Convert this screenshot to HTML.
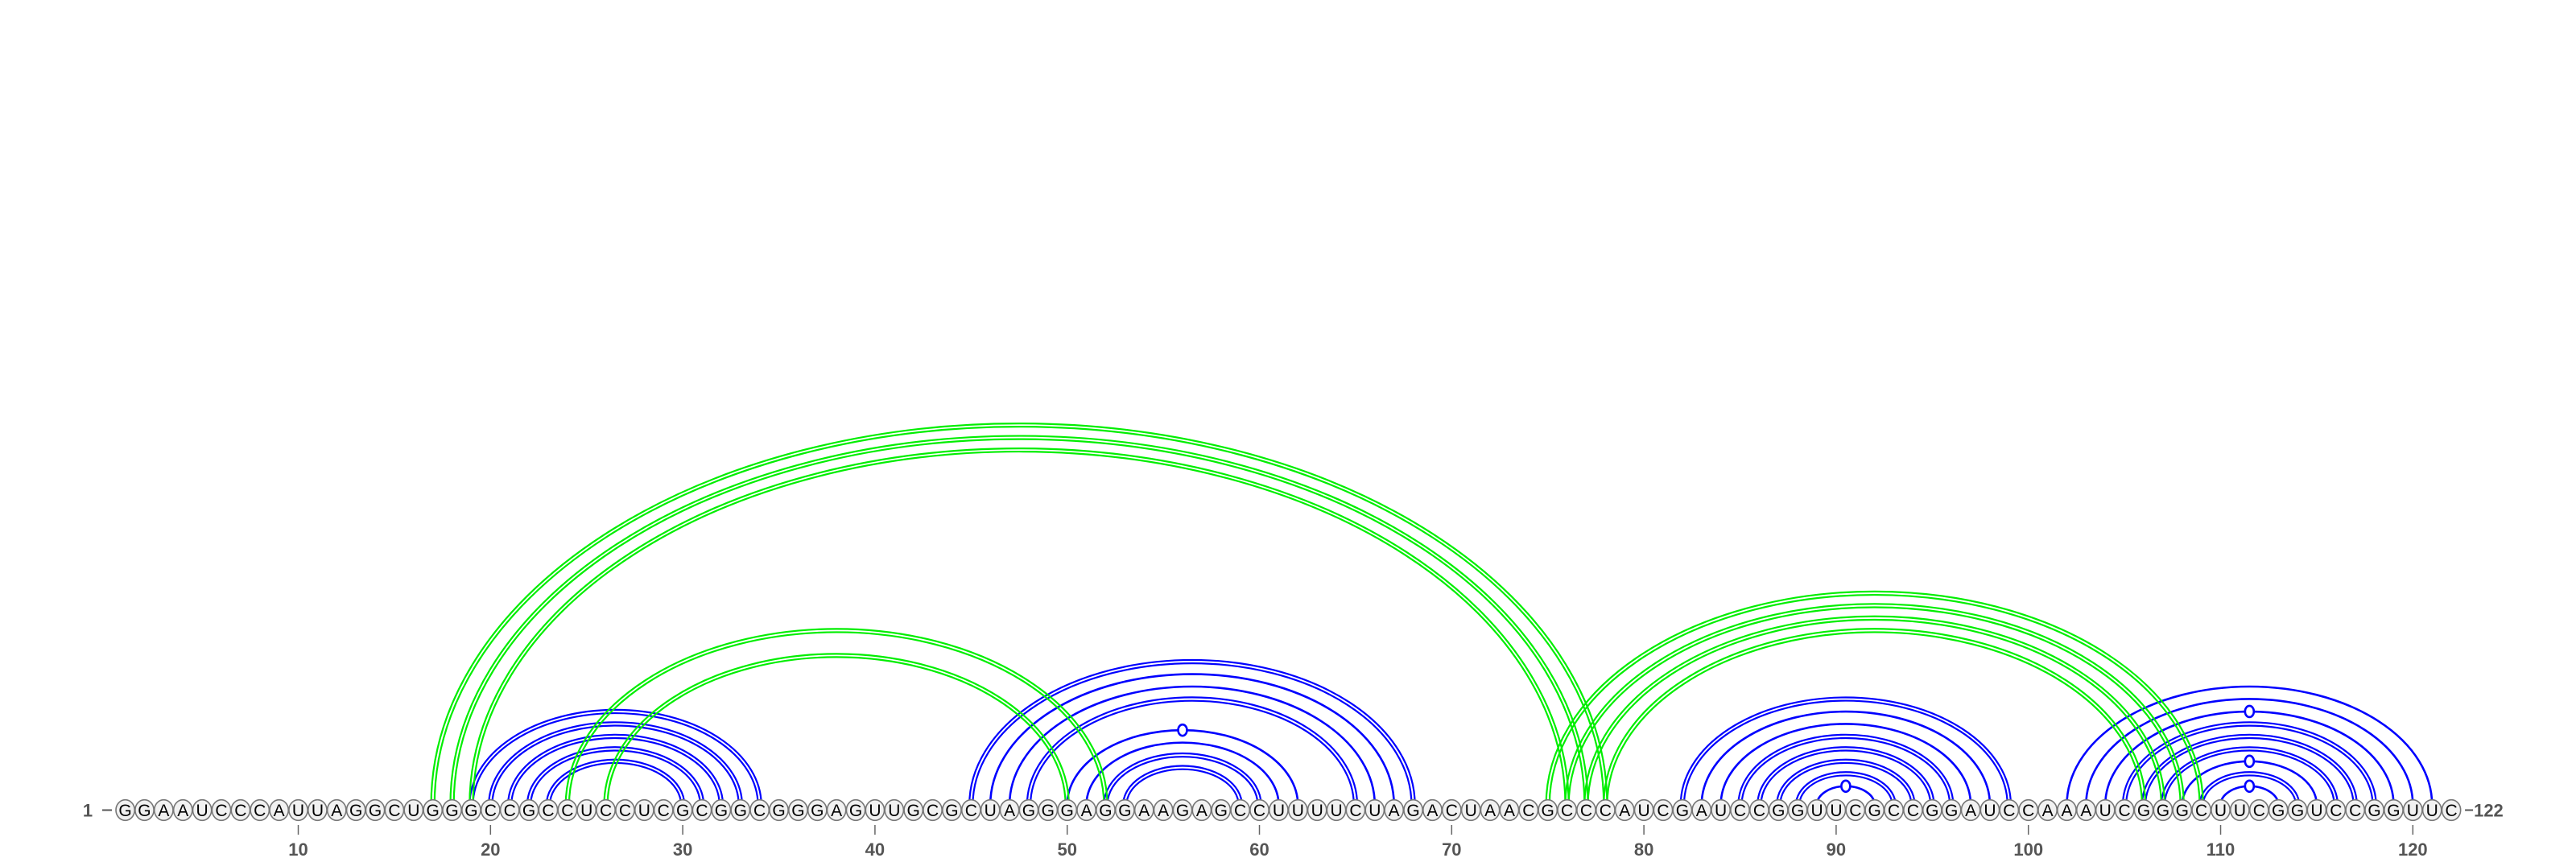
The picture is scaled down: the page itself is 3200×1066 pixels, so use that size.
<!DOCTYPE html>
<html><head><meta charset="utf-8"><style>
html,body{margin:0;padding:0;background:#fff;}
svg{display:block;}
</style></head><body>
<svg id="chart" width="3200" height="1066" viewBox="0 0 3200 1066" xmlns="http://www.w3.org/2000/svg">
<g id="blue-arcs"></g>
<g id="green-arcs"></g>
<g id="markers"></g>
<g id="nts"></g>
<g id="axis"></g>
</svg>
<script>
const sequence = "GGAAUCCCAUUAGGCUGGGCCGCCUCCUCGCGGCGGGAGUUGCGCUAGGGAGGAAGAGCCUUUUCUAGACUAACGCCCAUCGAUCCGGUUCGCCGGAUCCAAAUCGGGCUUCGGUCCGGUUC";
const blueI = [19,20,21,22,23, 45,46,47,48,50,51,52,53, 82,83,84,85,86,87,88,89, 102,103,104,105,106,107,108,109,110];
const blueJ = [34,33,32,31,30, 68,67,66,65,62,61,60,59, 99,98,97,96,95,94,93,92, 121,120,119,118,117,116,115,114,113];
const blueStyle = ["d","d","d","d","d", "d","s","s","d","gu","s","d","d", "d","s","s","d","d","d","d","gu", "s","s","gu","d","d","d","gu","d","gu"];
const greenI = [17,18,19,24,26,75,76,77,78];
const greenJ = [78,77,76,52,50,109,108,107,106];
const tickLabels = [10,20,30,40,50,60,70,80,90,100,110,120];

const NS = "http://www.w3.org/2000/svg";
const X0 = 155.6, STEP = 23.88, BASE = 1006.5, ARC_Y = 1000, RATIO = 0.648;
const xOf = n => X0 + (n - 1) * STEP;
function mk(tag, attrs, parent){
  const e = document.createElementNS(NS, tag);
  for (const k in attrs) e.setAttribute(k, attrs[k]);
  parent.appendChild(e);
  return e;
}
function arcPath(x1, x2, off){
  const a = x1 - off, b = x2 + off;
  const rx = (b - a) / 2, ry = RATIO * ((x2 - x1) / 2) + off;
  return `M${a},${ARC_Y} A${rx},${ry} 0 0 1 ${b},${ARC_Y}`;
}
function drawArc(g, i, j, style, color, name){
  const x1 = xOf(i), x2 = xOf(j);
  if (style === "d") {
    for (const off of [2.1, -2.1]) {
      const p = mk("path", {d: arcPath(x1, x2, off), fill: "none", stroke: color, "stroke-width": 2.2}, g);
      
      
    }
  } else {
    const p = mk("path", {d: arcPath(x1, x2, 0), fill: "none", stroke: color, "stroke-width": 2.6}, g);
    
    
    if (style === "gu") {
      const cx = (x1 + x2) / 2, cy = ARC_Y - RATIO * (x2 - x1) / 2;
      const m = mk("ellipse", {cx: cx, cy: cy, rx: 5.5, ry: 7, fill: "#fff", stroke: color, "stroke-width": 2.6}, document.getElementById("markers"));
      
      
    }
  }
}
const gb = document.getElementById("blue-arcs");
blueI.forEach((i, k) => drawArc(gb, i, blueJ[k], blueStyle[k], "#0000ff", "base-pair-arc"));
const gg = document.getElementById("green-arcs");
greenI.forEach((i, k) => drawArc(gg, i, greenJ[k], "d", "#00ee00", "pseudoknot-arc"));

const gn = document.getElementById("nts");
for (let n = 1; n <= sequence.length; n++) {
  const x = xOf(n);
  const c = mk("ellipse", {cx: x, cy: BASE, rx: 11.6, ry: 12.8, fill: "#f1f1f1", stroke: "#777", "stroke-width": 1.6}, gn);
  
  
  const t = mk("text", {x: x, y: BASE + 7.5, "text-anchor": "middle", "font-family": "Liberation Sans, sans-serif", "font-size": 21, fill: "#000"}, gn);
  t.textContent = sequence[n - 1];
  
  
}
const ga = document.getElementById("axis");
const s1 = mk("text", {x: 109, y: BASE + 8, "text-anchor": "middle", "font-family": "Liberation Sans, sans-serif", "font-size": 22, "font-weight": "bold", fill: "#555"}, ga);
s1.textContent = "1";


const d1 = mk("line", {x1: 127, y1: BASE, x2: 139, y2: BASE, stroke: "#555", "stroke-width": 2}, ga);


const xe = xOf(sequence.length);
const d2 = mk("line", {x1: xe + 17, y1: BASE, x2: xe + 27, y2: BASE, stroke: "#555", "stroke-width": 2}, ga);


const s2 = mk("text", {x: xe + 28, y: BASE + 8, "font-family": "Liberation Sans, sans-serif", "font-size": 22, "font-weight": "bold", fill: "#555"}, ga);
s2.textContent = String(sequence.length);


tickLabels.forEach(v => {
  const x = xOf(v);
  const l = mk("line", {x1: x, y1: 1025, x2: x, y2: 1037, stroke: "#666", "stroke-width": 1.5}, ga);
  
  
  const t = mk("text", {x: x, y: 1063, "text-anchor": "middle", "font-family": "Liberation Sans, sans-serif", "font-size": 22, "font-weight": "bold", fill: "#555"}, ga);
  t.textContent = v;
  
  
});
</script>
</body></html>
